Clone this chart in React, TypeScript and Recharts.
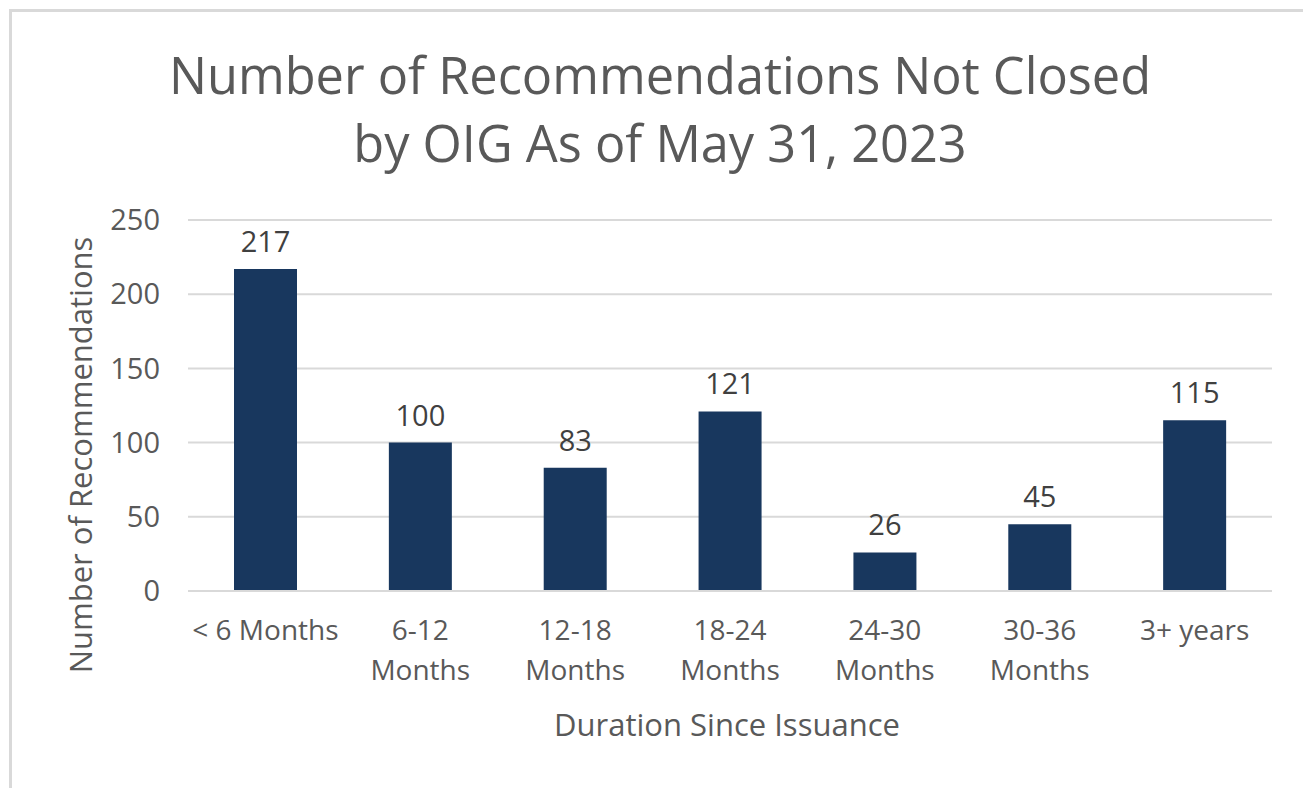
import { Bar, BarChart, CartesianGrid, LabelList, XAxis, YAxis } from "recharts";

const categories = ["< 6 Months", "6-12\nMonths", "12-18\nMonths", "18-24\nMonths", "24-30\nMonths", "30-36\nMonths", "3+ years"];
const openRecs = [217, 100, 83, 121, 26, 45, 115];
const yTicks = [0, 50, 100, 150, 200, 250];

const data = categories.map((name, i) => ({ name, value: openRecs[i] }));

const FONT = "'Open Sans', 'Noto Sans', sans-serif";
const GRAY = "#595959";

const DurationTick = ({ x, y, payload }: any) => {
  const lines = String(payload.value).split("\n");
  return (
    <text x={x} y={y} textAnchor="middle" fill={GRAY} fontSize={28} fontFamily={FONT}>
      {lines.map((ln, i) => (
        <tspan key={i} x={x} dy={i === 0 ? 41 : 40}>
          {ln}
        </tspan>
      ))}
    </text>
  );
};

export default function App() {
  return (
    <div style={{ position: "absolute", left: 0, top: 0, width: 1303, height: 788, background: "#fff", fontFamily: FONT, overflow: "hidden" }}>
      <div style={{ position: "absolute", left: 9, top: 9, width: 1400, height: 900, borderLeft: "3px solid #d9d9d9", borderTop: "3px solid #d9d9d9" }} />
      <div style={{ position: "absolute", left: 0, top: 41, width: 1320, textAlign: "center", color: GRAY, fontSize: 50.5, lineHeight: "68px" }}>
        Number of Recommendations Not Closed
        <br />
        by OIG As of May 31, 2023
      </div>
      <div style={{ position: "absolute", left: 0, top: 0 }}>
        <BarChart width={1303} height={788} data={data} margin={{ top: 220, right: 31, left: 0, bottom: 0 }} barCategoryGap="30%">
          <CartesianGrid vertical={false} stroke="#d9d9d9" strokeWidth={2} />
          <XAxis dataKey="name" height={197} axisLine={{ stroke: "#d9d9d9", strokeWidth: 2 }} tickLine={false} tick={<DurationTick />} interval={0} />
          <YAxis width={188} domain={[0, 250]} ticks={yTicks} axisLine={false} tickLine={false} tickSize={0} tickMargin={28} tick={{ fill: GRAY, fontSize: 29, fontFamily: FONT }} />
          <Bar dataKey="value" fill="#18375e" barSize={63} isAnimationActive={false}>
            <LabelList dataKey="value" position="top" offset={17} fill="#404040" fontSize={29} fontFamily={FONT} />
          </Bar>
        </BarChart>
      </div>
      <div style={{ position: "absolute", left: 80, top: 455, transform: "translate(-50%, -50%) rotate(-90deg)", whiteSpace: "nowrap", color: GRAY, fontSize: 31 }}>
        Number of Recommendations
      </div>
      <div style={{ position: "absolute", left: 727, top: 724, transform: "translate(-50%, -50%)", whiteSpace: "nowrap", color: GRAY, fontSize: 31 }}>
        Duration Since Issuance
      </div>
    </div>
  );
}
